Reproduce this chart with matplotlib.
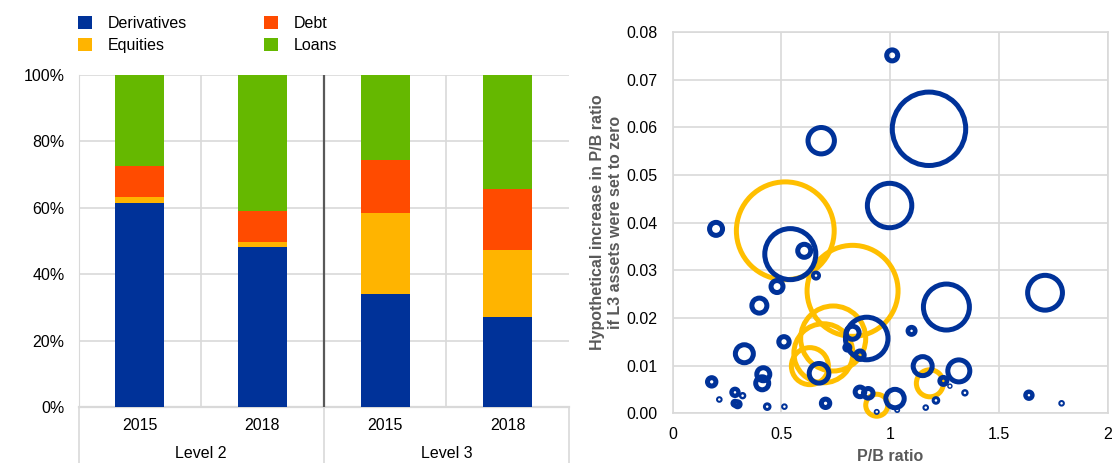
import numpy as np
import matplotlib
matplotlib.use("Agg")
import matplotlib.pyplot as plt

plt.rcParams['font.family'] = ['Liberation Sans', 'DejaVu Sans']

# ---- left panel: composition of level 2 / level 3 assets (shares, %) ----
years = ["2015", "2018", "2015", "2018"]
levels = ["Level 2", "Level 3"]
series = ["Derivatives", "Equities", "Debt", "Loans"]
derivatives = [61.5, 48.3, 34.1, 27.2]
equities = [1.6, 1.4, 24.4, 20.2]
debt = [9.4, 9.2, 16.0, 18.4]
loans = [27.5, 41.1, 25.5, 34.2]
colors = ["#003299", "#FFB400", "#FF4B00", "#65B800"]

# ---- right panel: bubbles (P/B ratio, increase in P/B, relative L3 size) ----
blue_pb = [1.009, 1.178, 0.683, 0.997, 0.200, 0.541, 0.605, 0.659, 0.480, 0.399,
           1.258, 1.711, 0.892, 0.827, 1.098, 0.512, 0.330, 0.803, 0.861, 1.149,
           1.315, 0.673, 0.417, 0.412, 0.180, 1.244, 1.274, 0.287, 0.322, 0.299,
           0.287, 0.215, 0.435, 0.514, 0.703, 0.861, 0.899, 1.022, 1.032, 1.163,
           1.210, 1.343, 1.637, 1.787, 0.938]
blue_inc = [0.0751, 0.0597, 0.0572, 0.0436, 0.0387, 0.0334, 0.0341, 0.0289, 0.0266, 0.0226,
            0.0223, 0.0253, 0.0157, 0.0169, 0.0173, 0.0150, 0.0125, 0.0138, 0.0122, 0.0099,
            0.0089, 0.0084, 0.0082, 0.0063, 0.0066, 0.0068, 0.0057, 0.0044, 0.0037, 0.0019,
            0.0021, 0.0029, 0.0014, 0.0014, 0.0021, 0.0045, 0.0042, 0.0031, 0.0007, 0.0012,
            0.0027, 0.0043, 0.0038, 0.0021, 0.0003]
blue_size = [2.42, 58.2, 9.33, 23.1, 3.07, 29.7, 3.07, 0.95, 2.73, 3.79,
             24.6, 15.0, 21.4, 3.07, 1.36, 2.24, 5.0, 0.95, 1.70, 5.45,
             6.9, 5.73, 3.07, 3.07, 1.70, 1.36, 0.28, 1.23, 0.52, 0.95,
             0.77, 0.41, 0.70, 0.41, 1.70, 2.02, 2.02, 5.18, 0.34, 0.41,
             0.70, 0.52, 1.23, 0.41, 0.34]
yellow_pb = [0.518, 0.827, 0.738, 0.693, 0.631, 1.182, 0.938]
yellow_inc = [0.0383, 0.0257, 0.0157, 0.0126, 0.0099, 0.0063, 0.0017]
yellow_size = [100, 87.2, 46.4, 38.8, 16.7, 9.7, 6.9]

DPI = 100
FS = 11.5
fig = plt.figure(figsize=(11.16, 4.63), dpi=DPI)
grid_c = "#D9D9D9"

# ================= left: stacked bars =================
ax = fig.add_axes([0.0704, 0.1210, 0.4394, 0.7171])
x = np.arange(len(years))
bottom = np.zeros(len(years))
for name, vals, c in zip(series, [derivatives, equities, debt, loans], colors):
    ax.bar(x, vals, 0.4, bottom=bottom, color=c, label=name, zorder=3)
    bottom += np.array(vals)

ax.set_xlim(-0.5, 3.5)
ax.set_ylim(0, 100)
ax.set_yticks(np.arange(0, 101, 20))
ax.set_yticklabels([f"{v}%" for v in range(0, 101, 20)], fontsize=FS)
ax.tick_params(axis="y", length=0, pad=10)
ax.set_xticks([])
ax.grid(axis="y", color=grid_c, lw=1.2, zorder=0)
for xv in [0.5, 2.5]:
    ax.axvline(xv, color=grid_c, lw=1.2, zorder=0)
ax.axvline(1.5, color="#595959", lw=1.6, zorder=4)
for s in ["top", "right"]:
    ax.spines[s].set_visible(False)
ax.spines["left"].set_color(grid_c)
ax.spines["bottom"].set_color(grid_c)
ax.spines["bottom"].set_linewidth(1.6)

trans = ax.get_xaxis_transform()
for xi, lab in zip(x, years):
    ax.text(xi, -0.057, lab, transform=trans, ha="center", va="center", fontsize=FS)
for gi, lab in enumerate(levels):
    ax.text(0.5 + 2 * gi, -0.141, lab, transform=trans, ha="center", va="center", fontsize=FS)
for xv in [-0.5, 1.5, 3.5]:
    ax.plot([xv, xv], [0, -0.17], transform=trans, color=grid_c, lw=1.2, clip_on=False)

fig.legend(loc="upper left", bbox_to_anchor=(78 / 1116, 1 - 16 / 463), ncol=2, frameon=False,
           fontsize=FS, handlelength=0.875, handleheight=0.875, handletextpad=1.0,
           columnspacing=4.8, labelspacing=0.42, borderpad=0, borderaxespad=0)

# ================= right: bubbles =================
bx = fig.add_axes([0.6026, 0.1073, 0.3902, 0.8235])
R_MAX = 51.4  # outer radius in px of the largest bubble


def draw_bubbles(px, py, sz, color, z):
    r_out = R_MAX * np.sqrt(np.array(sz) / 100.0)
    lw_px = np.clip(r_out - 1.3, 1.2, 5.0)
    r_c = r_out - lw_px / 2
    s = (2 * r_c * 72 / DPI) ** 2
    bx.scatter(px, py, s=s, facecolors="none", edgecolors=color,
               linewidths=lw_px * 72 / DPI, zorder=z, clip_on=False)


draw_bubbles(yellow_pb, yellow_inc, yellow_size, "#FFBF00", 3)
draw_bubbles(blue_pb, blue_inc, blue_size, "#003299", 4)

bx.set_xlim(0, 2)
bx.set_ylim(0, 0.08)
bx.set_xticks([0, 0.5, 1, 1.5, 2])
bx.set_xticklabels(["0", "0.5", "1", "1.5", "2"], fontsize=FS)
bx.set_yticks(np.arange(0, 0.081, 0.01))
bx.set_yticklabels([f"{v:.2f}" for v in np.arange(0, 0.081, 0.01)], fontsize=FS)
bx.tick_params(length=0)
bx.tick_params(axis="y", pad=10.8)
bx.tick_params(axis="x", pad=10)
bx.grid(True, color=grid_c, lw=1.2, zorder=0)
bx.set_axisbelow(True)
for s in bx.spines.values():
    s.set_color(grid_c)
    s.set_linewidth(1.2)
bx.set_xlabel("P/B ratio", fontsize=FS, fontweight="bold", color="#595959", labelpad=5)
bx.set_ylabel("Hypothetical increase in P/B ratio\nif L3 assets were set to zero",
              fontsize=FS, fontweight="bold", color="#595959", linespacing=1.25)
bx.yaxis.set_label_coords(-0.114, 0.5)

fig.savefig("out.png", dpi=DPI)
